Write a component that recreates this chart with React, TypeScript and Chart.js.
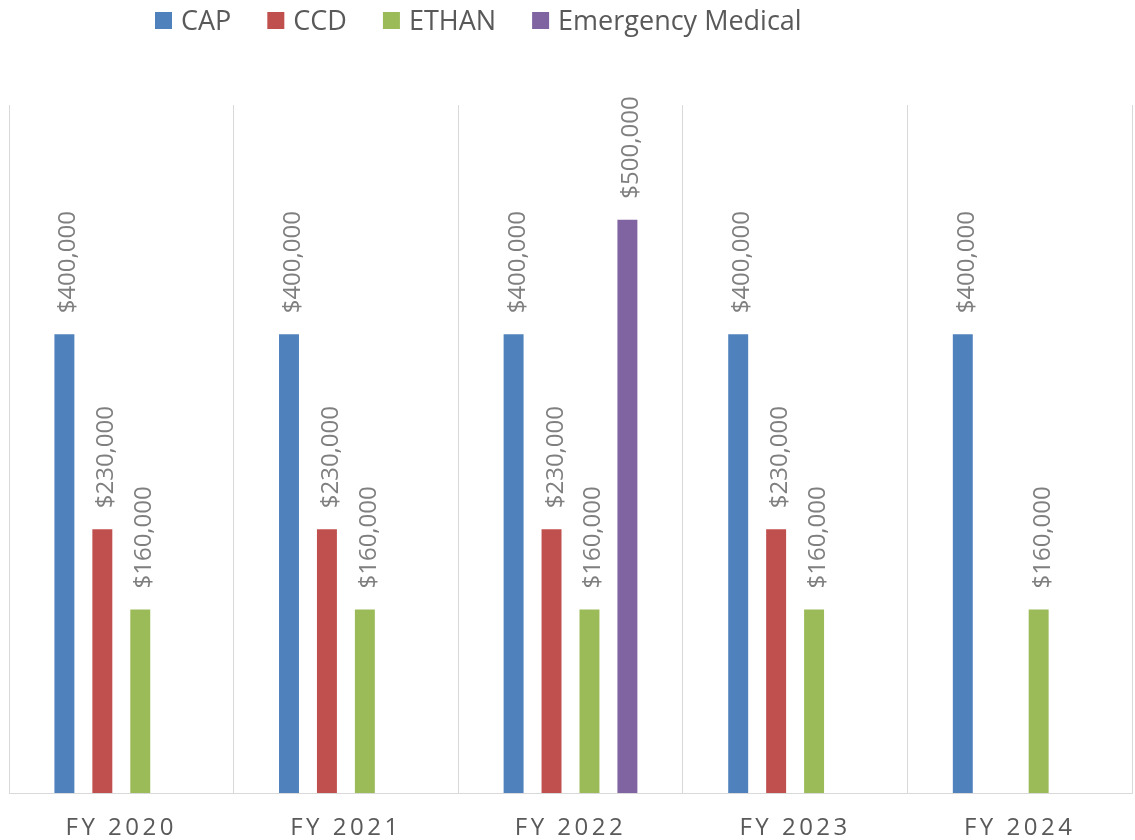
import React, { useEffect, useRef } from "react";
import { Chart, registerables } from "chart.js";

Chart.register(...registerables);

const categories = ["FY 2020", "FY 2021", "FY 2022", "FY 2023", "FY 2024"];
const seriesNames = ["CAP", "CCD", "ETHAN", "Emergency Medical"];
const seriesColors = ["#4F81BD", "#C0504D", "#9BBB59", "#8064A2"];
const capValues = [400000, 400000, 400000, 400000, 400000];
const ccdValues = [230000, 230000, 230000, 230000, null];
const ethanValues = [160000, 160000, 160000, 160000, 160000];
const emergencyValues = [null, null, 500000, null, null];
const yMax = 600000;

const LABEL_FONT = '24px "Open Sans", sans-serif';
const LEGEND_FONT = '27px "Open Sans", sans-serif';

const fmt = (v: number) => "$" + v.toLocaleString("en-US");

const customDraw = {
  id: "customDraw",
  afterDatasetsDraw(chart: any) {
    const ctx = chart.ctx;
    // data labels
    ctx.save();
    ctx.font = LABEL_FONT;
    ctx.fillStyle = "#7F7F7F";
    ctx.textAlign = "left";
    ctx.textBaseline = "alphabetic";
    chart.data.datasets.forEach((ds: any, di: number) => {
      const meta = chart.getDatasetMeta(di);
      meta.data.forEach((el: any, i: number) => {
        const v = ds.data[i];
        if (v == null) return;
        ctx.save();
        ctx.translate(el.x + 11, el.y - 21);
        ctx.rotate(-Math.PI / 2);
        ctx.fillText(fmt(v), 0, 0);
        ctx.restore();
      });
    });
    ctx.restore();

    // x labels
    const xs = chart.scales.x;
    ctx.save();
    ctx.font = LABEL_FONT;
    ctx.fillStyle = "#595959";
    ctx.textAlign = "center";
    ctx.textBaseline = "middle";
    (ctx as any).letterSpacing = "3.5px";
    chart.data.labels.forEach((lab: string, i: number) => {
      ctx.fillText(lab, xs.getPixelForValue(i), 828);
    });
    ctx.restore();

    // legend
    ctx.save();
    ctx.font = LEGEND_FONT;
    ctx.textBaseline = "alphabetic";
    ctx.textAlign = "left";
    let x = 155;
    chart.data.datasets.forEach((ds: any) => {
      ctx.fillStyle = ds.backgroundColor;
      ctx.fillRect(x, 12, 17, 17);
      ctx.fillStyle = "#595959";
      ctx.fillText(ds.label, x + 26, 30);
      x += 26 + ctx.measureText(ds.label).width + 36;
    });
    ctx.restore();
  },
};

export default function App() {
  const ref = useRef<HTMLCanvasElement>(null);
  useEffect(() => {
    if (!ref.current) return;
    const values = [capValues, ccdValues, ethanValues, emergencyValues];
    const chart = new Chart(ref.current, {
      type: "bar",
      data: {
        labels: categories,
        datasets: seriesNames.map((name, i) => ({
          label: name,
          data: values[i] as any,
          backgroundColor: seriesColors[i],
          categoryPercentage: 0.6756,
          barPercentage: 0.526,
        })),
      },
      options: {
        responsive: false,
        animation: false,
        layout: { padding: { left: 9, right: 3, top: 105, bottom: 47 } },
        plugins: { legend: { display: false }, tooltip: { enabled: false } },
        scales: {
          x: {
            grid: { offset: true, color: "#D9D9D9", lineWidth: 1, drawTicks: false },
            border: { display: true, color: "#D9D9D9", width: 1 },
            ticks: { display: false },
          },
          y: { display: false, min: 0, max: yMax },
        },
      },
      plugins: [customDraw],
    });
    return () => chart.destroy();
  }, []);
  return (
    <div style={{ position: "fixed", left: 0, top: 0, width: 1135, height: 840, background: "#fff" }}>
      <canvas ref={ref} width={1135} height={840} />
    </div>
  );
}
